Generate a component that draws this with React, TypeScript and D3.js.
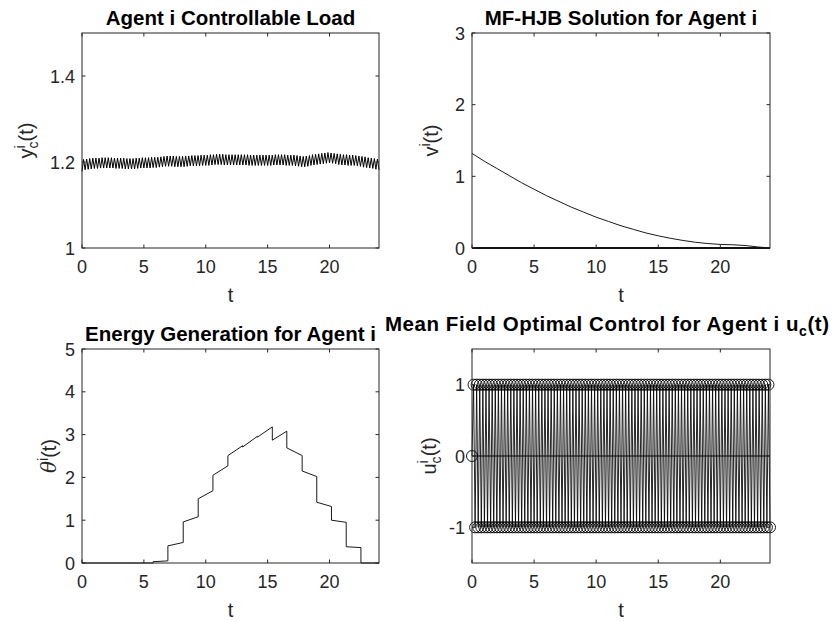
import React from "react";
import * as d3 from "d3";

// ---------- data ----------
const DT = 0.125; // sampling step of the simulation (hours): 8 samples per hour

// controllable load y_c(t), one row per hour (8 samples each) + final sample
const ycValues = [
  1.178, 1.206, 1.182, 1.207, 1.183, 1.208, 1.184, 1.209,
  1.185, 1.209, 1.185, 1.209, 1.186, 1.210, 1.186, 1.210,
  1.186, 1.210, 1.186, 1.210, 1.186, 1.209, 1.185, 1.209,
  1.185, 1.209, 1.185, 1.209, 1.184, 1.208, 1.184, 1.208,
  1.184, 1.208, 1.184, 1.209, 1.185, 1.209, 1.186, 1.210,
  1.186, 1.210, 1.186, 1.210, 1.186, 1.211, 1.187, 1.211,
  1.187, 1.211, 1.188, 1.212, 1.189, 1.213, 1.190, 1.214,
  1.190, 1.214, 1.190, 1.214, 1.189, 1.213, 1.189, 1.213,
  1.189, 1.213, 1.189, 1.214, 1.190, 1.214, 1.191, 1.215,
  1.191, 1.215, 1.191, 1.215, 1.191, 1.216, 1.192, 1.216,
  1.192, 1.216, 1.192, 1.217, 1.193, 1.217, 1.194, 1.218,
  1.194, 1.218, 1.194, 1.218, 1.193, 1.217, 1.193, 1.217,
  1.193, 1.217, 1.193, 1.217, 1.193, 1.217, 1.193, 1.217,
  1.193, 1.217, 1.193, 1.217, 1.192, 1.216, 1.192, 1.216,
  1.192, 1.216, 1.192, 1.216, 1.192, 1.216, 1.192, 1.216,
  1.192, 1.216, 1.192, 1.216, 1.193, 1.217, 1.193, 1.217,
  1.193, 1.217, 1.193, 1.217, 1.192, 1.216, 1.192, 1.216,
  1.192, 1.216, 1.191, 1.215, 1.190, 1.214, 1.189, 1.213,
  1.189, 1.214, 1.190, 1.215, 1.192, 1.217, 1.193, 1.218,
  1.194, 1.219, 1.195, 1.220, 1.196, 1.221, 1.197, 1.222,
  1.198, 1.221, 1.197, 1.220, 1.196, 1.219, 1.194, 1.218,
  1.193, 1.217, 1.193, 1.217, 1.192, 1.216, 1.192, 1.216,
  1.192, 1.215, 1.191, 1.214, 1.190, 1.213, 1.188, 1.212,
  1.187, 1.210, 1.186, 1.209, 1.185, 1.208, 1.183, 1.207,
  1.182,
];

// optimal control u_c(t), same sampling
const ucValues = [
  0, 1, -1, 1, -1, 1, -1, 1,
  -1, 1, -1, 1, -1, 1, -1, 1,
  -1, 1, -1, 1, -1, 1, -1, 1,
  -1, 1, -1, 1, -1, 1, -1, 1,
  -1, 1, -1, 1, -1, 1, -1, 1,
  -1, 1, -1, 1, -1, 1, -1, 1,
  -1, 1, -1, 1, -1, 1, -1, 1,
  -1, 1, -1, 1, -1, 1, -1, 1,
  -1, 1, -1, 1, -1, 1, -1, 1,
  -1, 1, -1, 1, -1, 1, -1, 1,
  -1, 1, -1, 1, -1, 1, -1, 1,
  -1, 1, -1, 1, -1, 1, -1, 1,
  -1, 1, -1, 1, -1, 1, -1, 1,
  -1, 1, -1, 1, -1, 1, -1, 1,
  -1, 1, -1, 1, -1, 1, -1, 1,
  -1, 1, -1, 1, -1, 1, -1, 1,
  -1, 1, -1, 1, -1, 1, -1, 1,
  -1, 1, -1, 1, -1, 1, -1, 1,
  -1, 1, -1, 1, -1, 1, -1, 1,
  -1, 1, -1, 1, -1, 1, -1, 1,
  -1, 1, -1, 1, -1, 1, -1, 1,
  -1, 1, -1, 1, -1, 1, -1, 1,
  -1, 1, -1, 1, -1, 1, -1, 1,
  -1, 1, -1, 1, -1, 1, -1, 1,
  -1,
];

// MF-HJB solution v(t), hourly
const vHours = [0, 1, 2, 3, 4, 5, 6, 7, 8, 9, 10, 11, 12, 13, 14, 15, 16, 17, 18, 19, 20, 21, 22, 23, 24];
const vValues = [1.32, 1.21, 1.11, 1.01, 0.91, 0.82, 0.73, 0.65, 0.57, 0.5, 0.43, 0.37, 0.31, 0.26, 0.21, 0.17, 0.135, 0.105, 0.08, 0.062, 0.05, 0.045, 0.035, 0.015, 0];

// energy generation theta(t)
const thetaTimes = [0, 5.75, 5.75, 6.94, 6.94, 8.18, 8.18, 9.39, 9.39, 10.58, 10.58, 11.79, 11.79, 12.98, 12.98, 14.17, 14.17, 15.38, 15.38, 16.55, 16.55, 17.79, 17.79, 18.97, 18.97, 20.16, 20.16, 21.35, 21.35, 22.54, 22.54, 24];
const thetaValues = [0, 0, 0.03, 0.05, 0.4, 0.48, 0.96, 1.08, 1.5, 1.69, 2.05, 2.27, 2.51, 2.74, 2.71, 2.96, 2.94, 3.18, 2.87, 3.08, 2.69, 2.51, 2.15, 2.02, 1.42, 1.32, 1.0, 0.95, 0.38, 0.36, 0, 0];

const xTickValues = [0, 5, 10, 15, 20];
const ycTicks = [1, 1.2, 1.4];
const vTicks = [0, 1, 2, 3];
const thetaTicks = [0, 1, 2, 3, 4, 5];
const ucTicks = [-1, 0, 1];

// ---------- layout ----------
const FONT = "'Liberation Sans', Arial, Helvetica, sans-serif";
const TICK_FS = 18;
const LABEL_FS = 20;
const TITLE_FS = 20.5;
const AX = "#262626";

type Box = { x0: number; x1: number; y0: number; y1: number };
const TL: Box = { x0: 82, x1: 379, y0: 33, y1: 248 };
const TR: Box = { x0: 472, x1: 770, y0: 33, y1: 248 };
const BL: Box = { x0: 82, x1: 379, y0: 349, y1: 563 };
const BR: Box = { x0: 472, x1: 770, y0: 349, y1: 563 };

function Axes({ b, x, y, xt, yt, fmt }: { b: Box; x: any; y: any; xt: number[]; yt: number[]; fmt?: (v: number) => string }) {
  const tl = 3.5;
  const f = fmt || ((v: number) => String(v));
  return (
    <g>
      <rect x={b.x0} y={b.y0} width={b.x1 - b.x0} height={b.y1 - b.y0} fill="none" stroke={AX} strokeWidth={1} />
      {xt.map((v) => (
        <g key={"x" + v}>
          <line x1={x(v)} x2={x(v)} y1={b.y1} y2={b.y1 - tl} stroke={AX} />
          <line x1={x(v)} x2={x(v)} y1={b.y0} y2={b.y0 + tl} stroke={AX} />
          <text x={x(v)} y={b.y1 + 25} fontSize={TICK_FS} textAnchor="middle" fontFamily={FONT} fill="#262626">
            {f(v)}
          </text>
        </g>
      ))}
      {yt.map((v) => (
        <g key={"y" + v}>
          <line x1={b.x0} x2={b.x0 + tl} y1={y(v)} y2={y(v)} stroke={AX} />
          <line x1={b.x1} x2={b.x1 - tl} y1={y(v)} y2={y(v)} stroke={AX} />
          <text x={b.x0 - 7} y={y(v) + 6.5} fontSize={TICK_FS} textAnchor="end" fontFamily={FONT} fill="#262626">
            {f(v)}
          </text>
        </g>
      ))}
      <text x={(b.x0 + b.x1) / 2} y={b.y1 + 54} fontSize={LABEL_FS} textAnchor="middle" fontFamily={FONT} fill="#262626">
        t
      </text>
    </g>
  );
}

export default function App() {
  const ts = ycValues.map((_, i) => i * DT);

  // top-left
  const xTL = d3.scaleLinear().domain([0, 24]).range([TL.x0, TL.x1]);
  const yTL = d3.scaleLinear().domain([1, 1.5]).range([TL.y1, TL.y0]);
  const ycPath = d3.line<number>().x((_, i) => xTL(ts[i])).y((d) => yTL(d))(ycValues) || "";

  // top-right
  const xTR = d3.scaleLinear().domain([0, 24]).range([TR.x0, TR.x1]);
  const yTR = d3.scaleLinear().domain([0, 3]).range([TR.y1, TR.y0]);
  const vPath = d3.line<number>().x((_, i) => xTR(vHours[i])).y((d) => yTR(d)).curve(d3.curveMonotoneX)(vValues) || "";

  // bottom-left
  const xBL = d3.scaleLinear().domain([0, 24]).range([BL.x0, BL.x1]);
  const yBL = d3.scaleLinear().domain([0, 5]).range([BL.y1, BL.y0]);
  const thPath = d3.line<number>().x((_, i) => xBL(thetaTimes[i])).y((d) => yBL(d))(thetaValues) || "";

  // bottom-right
  const xBR = d3.scaleLinear().domain([0, 24]).range([BR.x0, BR.x1]);
  const yBR = d3.scaleLinear().domain([-1.5, 1.5]).range([BR.y1, BR.y0]);
  const tu = ucValues.map((_, i) => i * DT);
  const uPath = d3.line<number>().x((_, i) => xBR(tu[i])).y((d) => yBR(d))(ucValues) || "";

  const fmt = (v: number) => (v < 0 ? "-" + Math.abs(v) : String(v));

  return (
    <svg width={839} height={621} style={{ position: "absolute", left: 0, top: 0, background: "#fff" }} fontFamily={FONT}>
      <rect width={839} height={621} fill="#fff" />

      {/* Top-left */}
      <text x={(TL.x0 + TL.x1) / 2} y={25} fontSize={TITLE_FS} fontWeight="bold" textAnchor="middle">
        Agent i Controllable Load
      </text>
      <path d={ycPath} fill="none" stroke="#000" strokeWidth={1} />
      <Axes b={TL} x={xTL} y={yTL} xt={xTickValues} yt={ycTicks} />
      <g transform={`translate(33,${(TL.y0 + TL.y1) / 2}) rotate(-90)`}>
        <text fontSize={LABEL_FS} textAnchor="middle" fill="#262626">
          y<tspan fontSize={14} dy={5}>c</tspan>
          <tspan fontSize={14} dx={-7} dy={-13}>i</tspan>
          <tspan dx={4} dy={8}>(t)</tspan>
        </text>
      </g>

      {/* Top-right */}
      <text x={(TR.x0 + TR.x1) / 2} y={25} fontSize={TITLE_FS} fontWeight="bold" textAnchor="middle">
        MF-HJB Solution for Agent i
      </text>
      <path d={vPath} fill="none" stroke="#000" strokeWidth={0.9} />
      <line x1={xTR(0)} x2={xTR(24)} y1={yTR(0)} y2={yTR(0)} stroke="#000" strokeWidth={2} />
      <Axes b={TR} x={xTR} y={yTR} xt={xTickValues} yt={vTicks} />
      <g transform={`translate(438,${(TR.y0 + TR.y1) / 2}) rotate(-90)`}>
        <text fontSize={LABEL_FS} textAnchor="middle" fill="#262626">
          v<tspan fontSize={14} dy={-8}>i</tspan>
          <tspan dy={8}>(t)</tspan>
        </text>
      </g>

      {/* Bottom-left */}
      <text x={(BL.x0 + BL.x1) / 2} y={341} fontSize={TITLE_FS} fontWeight="bold" textAnchor="middle">
        Energy Generation for Agent i
      </text>
      <path d={thPath} fill="none" stroke="#000" strokeWidth={0.9} />
      <Axes b={BL} x={xBL} y={yBL} xt={xTickValues} yt={thetaTicks} />
      <g transform={`translate(56,${(BL.y0 + BL.y1) / 2}) rotate(-90)`}>
        <text fontSize={LABEL_FS} textAnchor="middle" fill="#262626">
          <tspan fontStyle="italic" fontFamily="'DejaVu Serif', serif">θ</tspan>
          <tspan fontSize={14} dy={-8}>i</tspan>
          <tspan dy={8}>(t)</tspan>
        </text>
      </g>

      {/* Bottom-right */}
      <text x={607} y={331} fontSize={TITLE_FS} fontWeight="bold" textAnchor="middle" textLength={444} lengthAdjust="spacing">
        Mean Field Optimal Control for Agent i u<tspan fontSize={14} dy={5}>c</tspan>
        <tspan dy={-5}>(t)</tspan>
      </text>
      <line x1={xBR(0)} x2={xBR(24)} y1={yBR(0)} y2={yBR(0)} stroke="#000" strokeWidth={1} />
      <path d={uPath} fill="none" stroke="#000" strokeWidth={0.85} />
      {ucValues.map((d, i) => (
        <circle key={i} cx={xBR(tu[i])} cy={yBR(d)} r={5.5} fill="none" stroke="#000" strokeWidth={0.9} />
      ))}
      <Axes b={BR} x={xBR} y={yBR} xt={xTickValues} yt={ucTicks} fmt={fmt} />
      <g transform={`translate(436,${(BR.y0 + BR.y1) / 2}) rotate(-90)`}>
        <text fontSize={LABEL_FS} textAnchor="middle" fill="#262626">
          u<tspan fontSize={14} dy={5}>c</tspan>
          <tspan fontSize={14} dx={-7} dy={-13}>i</tspan>
          <tspan dx={4} dy={8}>(t)</tspan>
        </text>
      </g>
    </svg>
  );
}
